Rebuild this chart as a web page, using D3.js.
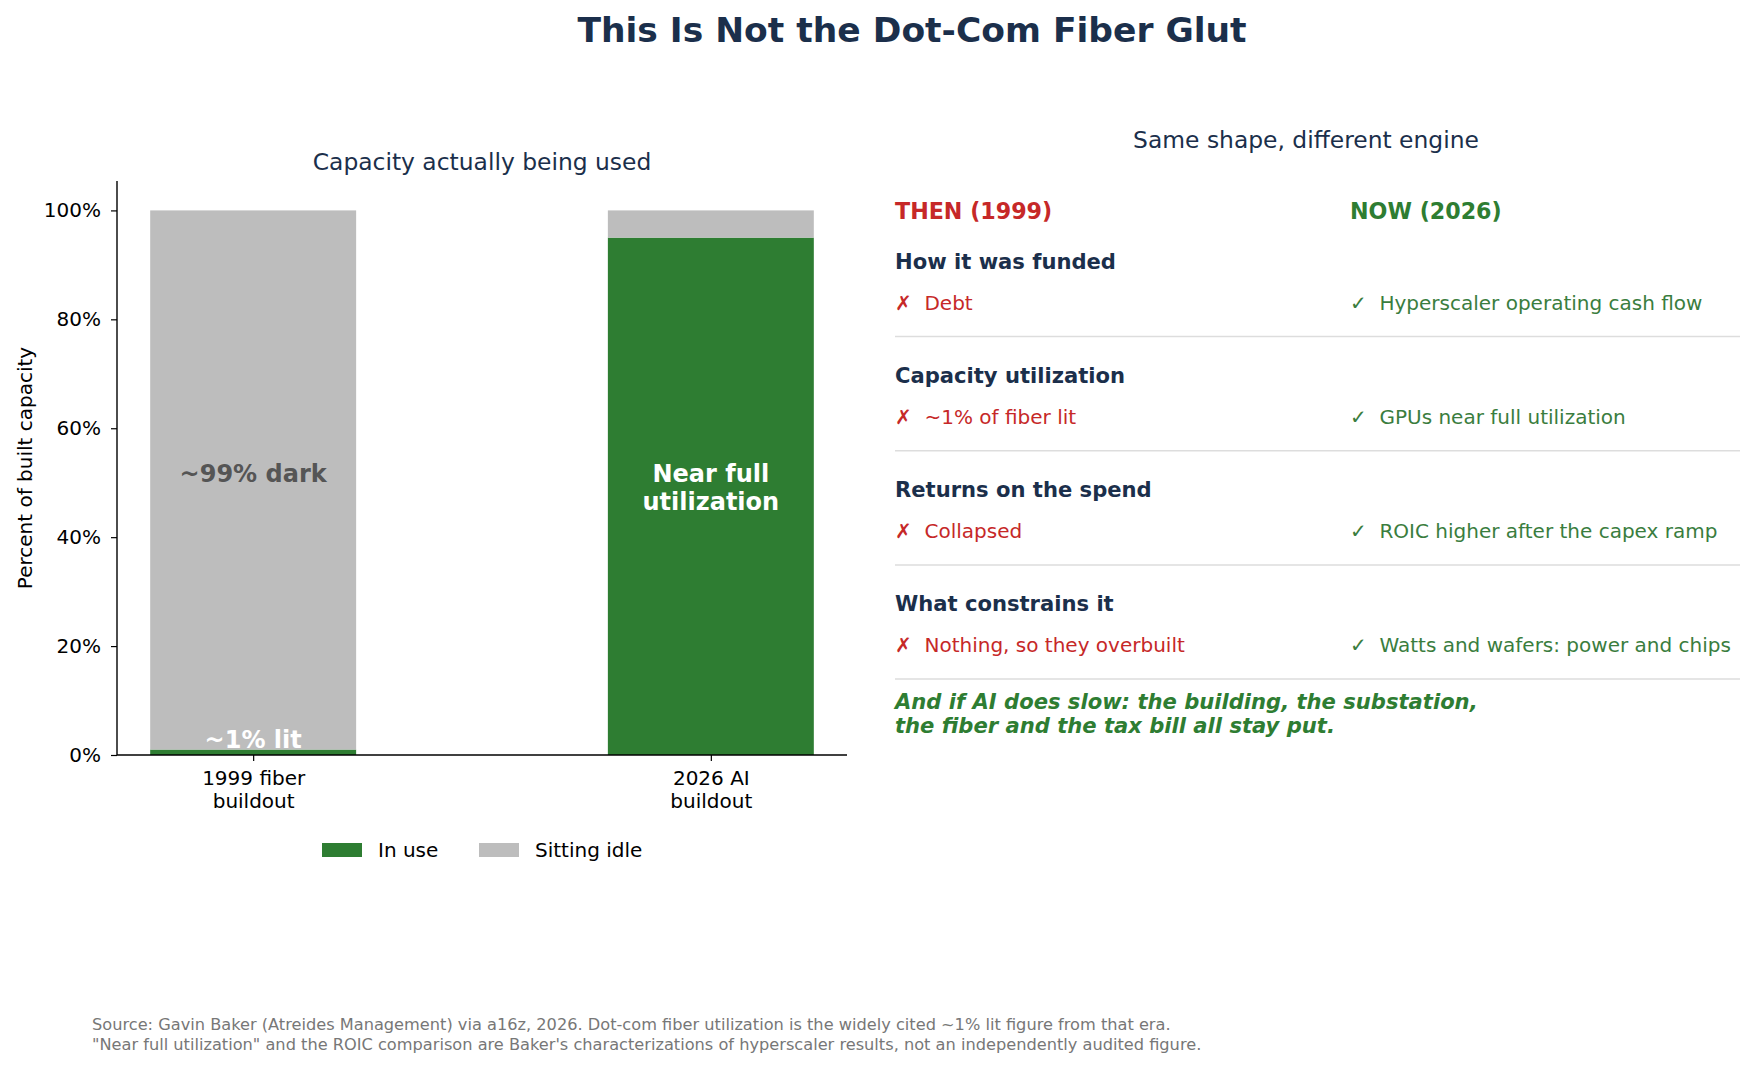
<!DOCTYPE html>
<html>
<head>
<meta charset="utf-8">
<script src="https://cdn.jsdelivr.net/npm/d3@7"></script>
<style>
  body { margin: 0; background: #fff; }
  text { font-family: "DejaVu Sans", sans-serif; }
</style>
</head>
<body>
<div id="container"></div>
<script>
/* DATA */
const categories = [["1999 fiber", "buildout"], ["2026 AI", "buildout"]]
const inUse = [1, 95]
const idle = [99, 5]
const yTicks = [0, 20, 40, 60, 80, 100]
const seriesNames = ["In use", "Sitting idle"]

const topics = ["How it was funded", "Capacity utilization", "Returns on the spend", "What constrains it"]
const thenItems = ["Debt", "~1% of fiber lit", "Collapsed", "Nothing, so they overbuilt"]
const nowItems = ["Hyperscaler operating cash flow", "GPUs near full utilization", "ROIC higher after the capex ramp", "Watts and wafers: power and chips"]

/* CONSTANTS */
const width = 1758,
  height = 1068,
  margin = { top: 181, bottom: 313, left: 117, right: 911 },
  barWidth = 0.45

const green = "#2e7d32", gray = "#bdbdbd", red = "#c62828", navy = "#1b2f4b"

const svg = d3.select("#container")
  .append("svg")
  .attr("width", width)
  .attr("height", height)

// title
svg.append("text")
  .attr("x", 912).attr("y", 30)
  .attr("text-anchor", "middle").attr("dominant-baseline", "central")
  .style("font-size", "34.5px").style("font-weight", "bold")
  .attr("fill", navy)
  .text("This Is Not the Dot-Com Fiber Glut")

/* SCALES */
const xScale = d3.scaleLinear()
  .domain([-barWidth / 2 - 0.0725, 1 + barWidth / 2 + 0.0725])
  .range([margin.left, width - margin.right])

const yScale = d3.scaleLinear()
  .domain([0, 105.4])
  .range([height - margin.bottom, margin.top])

const colorScale = d3.scaleOrdinal()
  .domain(seriesNames)
  .range([green, gray])

/* BARS */
const stacked = categories.map((c, i) => ({ i, inUse: inUse[i], idle: idle[i] }))
const stack = d3.stack().keys(["inUse", "idle"])(stacked)

svg.selectAll("g.layer")
  .data(stack)
  .join("g")
  .attr("class", "layer")
  .attr("fill", (d, k) => colorScale(seriesNames[k]))
  .selectAll("rect")
  .data(d => d)
  .join("rect")
  .attr("x", d => xScale(d.data.i - barWidth / 2))
  .attr("width", d => xScale(barWidth) - xScale(0))
  .attr("y", d => yScale(d[1]))
  .attr("height", d => yScale(d[0]) - yScale(d[1]))

/* AXES */
const yAxis = d3.axisLeft(yScale)
  .tickValues(yTicks)
  .tickFormat(d => d + "%")
  .tickSize(6)
  .tickPadding(10)

const gy = svg.append("g")
  .attr("transform", `translate(${margin.left},0)`)
  .call(yAxis)
gy.select(".domain").attr("stroke", "#000").attr("stroke-width", 1.4).attr("d", `M0,${yScale(105.4)}V${yScale(0)}`)
gy.selectAll(".tick line").attr("stroke", "#000").attr("stroke-width", 1.2)
gy.selectAll(".tick text").style("font-size", "20px").attr("fill", "#000")

const xAxis = d3.axisBottom(xScale)
  .tickValues([0, 1])
  .tickFormat("")
  .tickSize(6)

const gx = svg.append("g")
  .attr("transform", `translate(0,${yScale(0)})`)
  .call(xAxis)
gx.select(".domain").attr("stroke", "#000").attr("stroke-width", 1.4).attr("d", `M${margin.left},0H${width - margin.right}`)
gx.selectAll(".tick line").attr("stroke", "#000").attr("stroke-width", 1.2)

gx.selectAll(".tick")
  .append("text")
  .attr("text-anchor", "middle")
  .attr("dominant-baseline", "central")
  .attr("fill", "#000")
  .style("font-size", "20px")
  .selectAll("tspan")
  .data((d, i) => categories[i])
  .join("tspan")
  .attr("x", 0)
  .attr("y", (d, j) => 22.5 + j * 23)
  .text(d => d)

// y label
svg.append("text")
  .attr("transform", `translate(25,${(yScale(0) + yScale(105.4)) / 2}) rotate(-90)`)
  .attr("text-anchor", "middle").attr("dominant-baseline", "central")
  .style("font-size", "20px")
  .text("Percent of built capacity")

// panel title
svg.append("text")
  .attr("x", (margin.left + width - margin.right) / 2).attr("y", 162)
  .attr("text-anchor", "middle").attr("dominant-baseline", "central")
  .style("font-size", "23.4px").attr("fill", navy)
  .text("Capacity actually being used")

/* BAR LABELS */
svg.append("text")
  .attr("x", xScale(0)).attr("y", yScale(51) - 3)
  .attr("text-anchor", "middle").attr("dominant-baseline", "central")
  .style("font-size", "24px").style("font-weight", "bold").attr("fill", "#555")
  .text("~99% dark")

svg.append("text")
  .attr("x", xScale(0)).attr("y", yScale(2.8))
  .attr("text-anchor", "middle").attr("dominant-baseline", "central")
  .style("font-size", "24px").style("font-weight", "bold").attr("fill", "#fff")
  .text("~1% lit")

svg.append("text")
  .attr("text-anchor", "middle").attr("dominant-baseline", "central")
  .style("font-size", "24px").style("font-weight", "bold").attr("fill", "#fff")
  .selectAll("tspan")
  .data(["Near full", "utilization"])
  .join("tspan")
  .attr("x", xScale(1))
  .attr("y", (d, j) => yScale(51) - 3 + j * 28)
  .text(d => d)

/* LEGEND */
const legend = svg.append("g").attr("transform", "translate(322,850)")
const legendX = [0, 157]
seriesNames.forEach((name, k) => {
  legend.append("rect")
    .attr("x", legendX[k]).attr("y", -7)
    .attr("width", 40).attr("height", 14)
    .attr("fill", colorScale(name))
  legend.append("text")
    .attr("x", legendX[k] + 56).attr("y", 0)
    .attr("dominant-baseline", "central")
    .style("font-size", "20px")
    .text(name)
})

/* RIGHT PANEL */
const colThen = 895, colNow = 1350, lineEnd = 1740
const rowScale = d3.scaleLinear().domain([0, 1]).range([261, 375.2])

svg.append("text")
  .attr("x", 1306).attr("y", 140)
  .attr("text-anchor", "middle").attr("dominant-baseline", "central")
  .style("font-size", "23.4px").attr("fill", navy)
  .text("Same shape, different engine")

svg.append("text")
  .attr("x", colThen).attr("y", 210.5).attr("dominant-baseline", "central")
  .style("font-size", "22.2px").style("font-weight", "bold").attr("fill", red)
  .text("THEN (1999)")

svg.append("text")
  .attr("x", colNow).attr("y", 210.5).attr("dominant-baseline", "central")
  .style("font-size", "22.2px").style("font-weight", "bold").attr("fill", green)
  .text("NOW (2026)")

const rows = svg.selectAll("g.row")
  .data(topics)
  .join("g")
  .attr("class", "row")
  .attr("transform", (d, i) => `translate(0,${rowScale(i)})`)

rows.append("text")
  .attr("x", colThen).attr("y", 0).attr("dominant-baseline", "central")
  .style("font-size", "21.1px").style("font-weight", "bold").attr("fill", navy)
  .text(d => d)

rows.append("text")
  .attr("x", colThen).attr("y", 41.5).attr("dominant-baseline", "central")
  .style("font-size", "20px").style("white-space", "pre").attr("fill", red)
  .text((d, i) => "\u2717  " + thenItems[i])

rows.append("text")
  .attr("x", colNow).attr("y", 41.5).attr("dominant-baseline", "central")
  .style("font-size", "20px").style("white-space", "pre").attr("fill", "#3a7d3e")
  .text((d, i) => "\u2713  " + nowItems[i])

rows.append("line")
  .attr("x1", colThen).attr("x2", lineEnd)
  .attr("y1", 75.5).attr("y2", 75.5)
  .attr("stroke", "#dddddd").attr("stroke-width", 1.5)

svg.append("text")
  .attr("dominant-baseline", "central")
  .style("font-size", "21.1px").style("font-weight", "bold").style("font-style", "italic")
  .attr("fill", green)
  .selectAll("tspan")
  .data(["And if AI does slow: the building, the substation,", "the fiber and the tax bill all stay put."])
  .join("tspan")
  .attr("x", colThen)
  .attr("y", (d, j) => 701 + j * 24)
  .text(d => d)

/* SOURCE */
svg.append("text")
  .attr("dominant-baseline", "central")
  .style("font-size", "16.2px").attr("fill", "#777")
  .selectAll("tspan")
  .data([
    "Source: Gavin Baker (Atreides Management) via a16z, 2026. Dot-com fiber utilization is the widely cited ~1% lit figure from that era.",
    "\"Near full utilization\" and the ROIC comparison are Baker's characterizations of hyperscaler results, not an independently audited figure."
  ])
  .join("tspan")
  .attr("x", 92)
  .attr("y", (d, j) => 1024 + j * 20)
  .text(d => d)
</script>
</body>
</html>
